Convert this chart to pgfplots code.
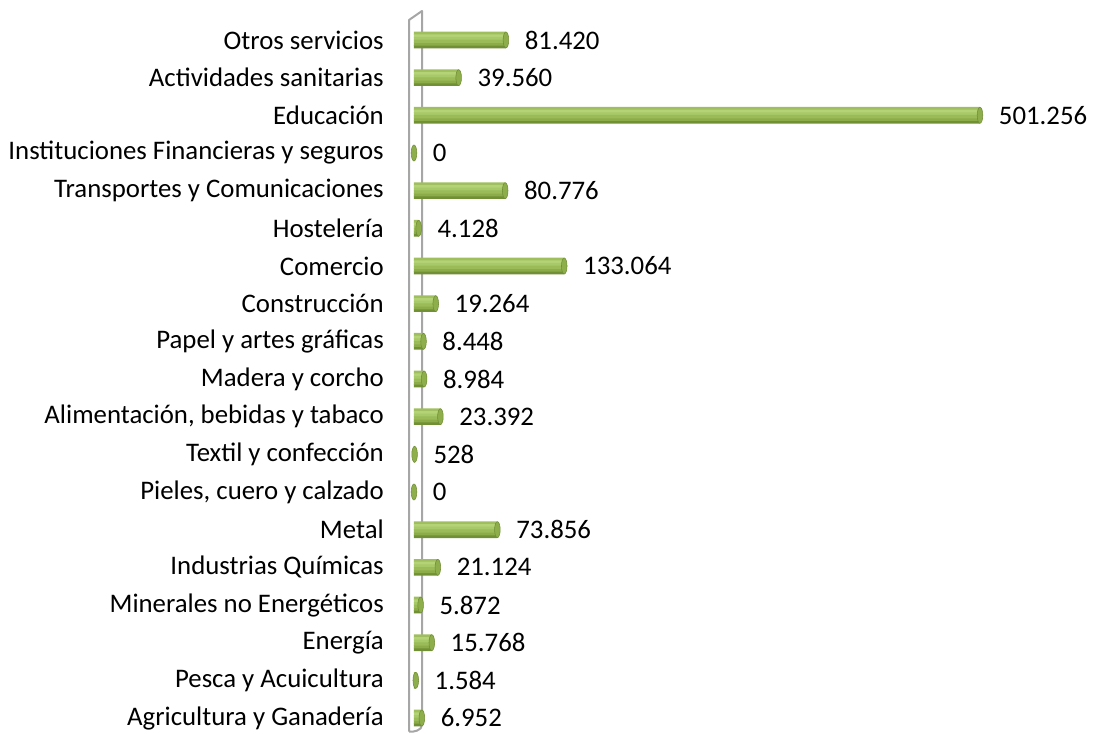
\documentclass[border=0pt]{standalone}
\usepackage{fontspec}
\setmainfont{Carlito}
\usepackage{pgfplots}
\usepackage{pgfplotstable}
\pgfplotsset{compat=1.18}
\definecolor{bA}{HTML}{9FBF5E}
\definecolor{bB}{HTML}{B4D276}
\definecolor{bC}{HTML}{A8C968}
\definecolor{bD}{HTML}{9ABB58}
\definecolor{bE}{HTML}{8BAC49}
\definecolor{bF}{HTML}{718F35}
\definecolor{bardark}{HTML}{6F8C33}
\definecolor{capfill}{HTML}{8DAE4B}
\definecolor{wallgray}{HTML}{A6A6A6}
\pgfplotstableread{
c v lab
0 6952 6.952
1 1584 1.584
2 15768 15.768
3 5872 5.872
4 21124 21.124
5 73856 73.856
6 0 0
7 528 528
8 23392 23.392
9 8984 8.984
10 8448 8.448
11 19264 19.264
12 133064 133.064
13 4128 4.128
14 80776 80.776
15 0 0
16 501256 501.256
17 39560 39.560
18 81420 81.420
}\datatable
\begin{document}
\fontsize{20.1}{24}\selectfont
\begin{tikzpicture}
% 3D wall
\draw[wallgray, line width=1.5pt, line join=round]
  (306.75pt,1pt) -- (306.75pt,534.75pt) -- (316.5pt,541.5pt) -- (316.5pt,6pt)
  .. controls (316.5pt,2pt) and (310pt,0.5pt) .. (306.75pt,1pt);
\begin{axis}[
  at={(310.5pt,0pt)}, anchor=south west,
  scale only axis, width=439.5pt, height=542.25pt,
  xmin=0, xmax=518971, ymin=-0.398, ymax=18.796,
  axis line style={draw=none},
  xtick=\empty,
  ytick={0,...,18},
  yticklabels={Agricultura y Ganadería, Pesca y Acuicultura, Energía, Minerales no Energéticos, Industrias Químicas, Metal, {Pieles, cuero y calzado}, Textil y confección, {Alimentación, bebidas y tabaco}, Madera y corcho, Papel y artes gráficas, Construcción, Comercio, Hostelería, Transportes y Comunicaciones, Instituciones Financieras y seguros, Educación, Actividades sanitarias, Otros servicios},
  major tick length=0pt,
  yticklabel style={anchor=east, inner sep=0pt, xshift=-22.5pt},
  clip=false,
  band/.style={xbar, bar width=2.5pt, draw=none, forget plot},
]
\addplot[band, bar shift=5pt, fill=bA] table[x=v, y=c] {\datatable};
\addplot[band, bar shift=-5pt, fill=bF] table[x=v, y=c] {\datatable};
\addplot[band, bar shift=3pt, fill=bB] table[x=v, y=c] {\datatable};
\addplot[band, bar shift=-3pt, fill=bE] table[x=v, y=c] {\datatable};
\addplot[band, bar shift=1pt, fill=bC] table[x=v, y=c] {\datatable};
\addplot[band, bar shift=-1pt, fill=bD] table[x=v, y=c] {\datatable};
\addplot[only marks, mark=*, mark size=6pt,
  mark options={xscale=0.35, fill=capfill, draw=bardark, line width=0.4pt},
  point meta=explicit symbolic,
  nodes near coords,
  every node near coord/.append style={anchor=west, inner sep=0pt, xshift=14pt, text=black}]
  table[x=v, y=c, meta=lab] {\datatable};
\end{axis}
\pgfresetboundingbox
\path (0,0) rectangle (825pt,549.75pt);
\end{tikzpicture}
\end{document}
